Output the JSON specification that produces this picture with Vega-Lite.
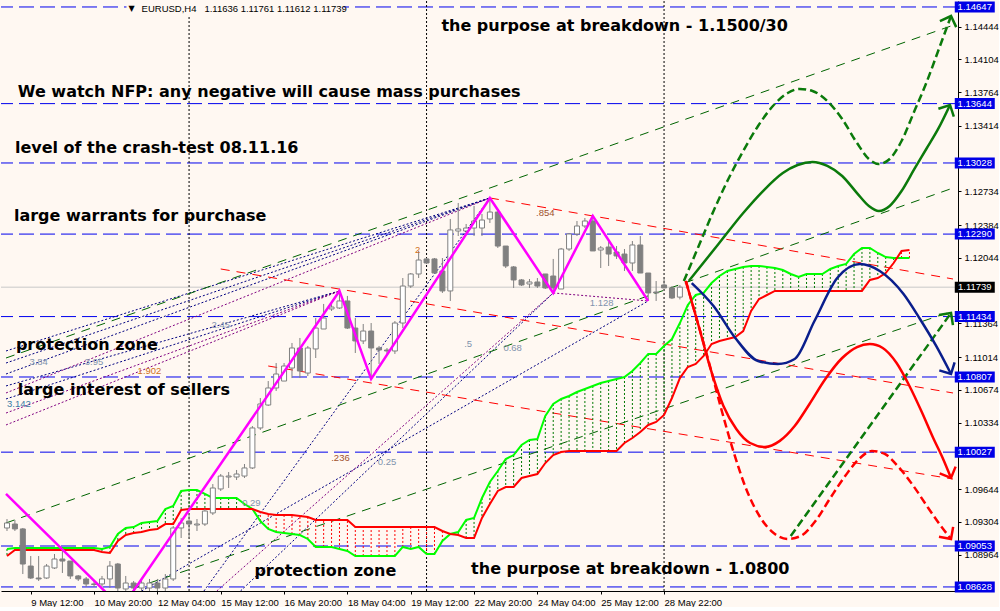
{
"$schema":"https://vega.github.io/schema/vega-lite/v6.json",
"width":957,"height":590,"padding":0,
"background":"#FFF8F2",
"config":{"view":{"stroke":null},"text":{"font":"Liberation Sans"},"axis":{"labelOverlap":false,"labelFlush":false}},
"resolve":{"scale":{"color":"independent"}},
"datasets":{
"levels":[{"p":1.14647},{"p":1.13644},{"p":1.13028},{"p":1.12290},{"p":1.11434},{"p":1.10807},{"p":1.10027},{"p":1.09053},{"p":1.08628}],
"tags":[{"p":1.14647,"t":"1.14647","k":"level"},{"p":1.13644,"t":"1.13644","k":"level"},{"p":1.13028,"t":"1.13028","k":"level"},{"p":1.12290,"t":"1.12290","k":"level"},{"p":1.11434,"t":"1.11434","k":"level"},{"p":1.10807,"t":"1.10807","k":"level"},{"p":1.10027,"t":"1.10027","k":"level"},{"p":1.09053,"t":"1.09053","k":"level"},{"p":1.08628,"t":"1.08628","k":"level"},{"p":1.11739,"t":"1.11739","k":"bid"}],
"seps":[{"i":23},{"i":53},{"i":83}],
"trend":[
{"id":"g1","g":"green","i":-0.125,"p":1.11004},{"id":"g1","g":"green","i":119.5,"p":1.14457},
{"id":"g2","g":"green","i":-0.125,"p":1.09292},{"id":"g2","g":"green","i":119.5,"p":1.12768},
{"id":"g3","g":"green","i":16.125,"p":1.08617},{"id":"g3","g":"green","i":119.5,"p":1.11492},
{"id":"r1","g":"red","i":61,"p":1.12665},{"id":"r1","g":"red","i":119.5,"p":1.11824},
{"id":"r2","g":"red","i":27,"p":1.11928},{"id":"r2","g":"red","i":119.5,"p":1.10641},
{"id":"r3","g":"red","i":33,"p":1.10921},{"id":"r3","g":"red","i":119.5,"p":1.09748},
{"id":"n1","g":"navy","i":-0.125,"p":1.11077},{"id":"n1","g":"navy","i":61,"p":1.12665},
{"id":"n2","g":"navy","i":-0.125,"p":1.10952},{"id":"n2","g":"navy","i":61,"p":1.12665},
{"id":"n3","g":"navy","i":-0.125,"p":1.10838},{"id":"n3","g":"navy","i":61,"p":1.12665},
{"id":"n4","g":"navy","i":-0.125,"p":1.10714},{"id":"n4","g":"navy","i":42,"p":1.11700},
{"id":"n5","g":"navy","i":-0.125,"p":1.10579},{"id":"n5","g":"navy","i":42,"p":1.11700},
{"id":"n6","g":"navy","i":24.875,"p":1.08586},{"id":"n6","g":"navy","i":61,"p":1.12665},
{"id":"n7","g":"navy","i":29.5,"p":1.08586},{"id":"n7","g":"navy","i":69,"p":1.11679},
{"id":"n8","g":"navy","i":17,"p":1.08586},{"id":"n8","g":"navy","i":81,"p":1.11596},
{"id":"v1","g":"purple","i":-0.125,"p":1.10641},{"id":"v1","g":"purple","i":61,"p":1.12665},
{"id":"v2","g":"purple","i":-0.125,"p":1.10433},{"id":"v2","g":"purple","i":42,"p":1.11700},
{"id":"v3","g":"purple","i":-0.125,"p":1.10309},{"id":"v3","g":"purple","i":42,"p":1.11700},
{"id":"v4","g":"purple","i":26.5,"p":1.08586},{"id":"v4","g":"purple","i":69,"p":1.11679},
{"id":"v5","g":"purple","i":69,"p":1.11679},{"id":"v5","g":"purple","i":81,"p":1.11596}
],
"cloud":[
{"i":0,"a":1.09022,"b":1.08949},{"i":1,"a":1.09032,"b":1.09012},{"i":2,"a":1.09032,"b":1.09012},{"i":3,"a":1.09032,"b":1.09012},{"i":4,"a":1.09032,"b":1.09012},{"i":5,"a":1.09032,"b":1.09012},{"i":6,"a":1.09032,"b":1.09012},{"i":7,"a":1.09032,"b":1.09012},{"i":8,"a":1.09032,"b":1.09012},{"i":9,"a":1.09032,"b":1.09012},{"i":10,"a":1.09032,"b":1.09012},{"i":11,"a":1.09032,"b":1.09012},
{"i":12,"a":1.09022,"b":1.08991},{"i":13,"a":1.09043,"b":1.08980},{"i":14,"a":1.09178,"b":1.09105},{"i":15,"a":1.09240,"b":1.09167},{"i":16,"a":1.09250,"b":1.09188},{"i":17,"a":1.09292,"b":1.09198},{"i":18,"a":1.09302,"b":1.09219},{"i":19,"a":1.09312,"b":1.09230},{"i":20,"a":1.09437,"b":1.09281},{"i":21,"a":1.09468,"b":1.09281},
{"i":22,"a":1.09624,"b":1.09427},{"i":23,"a":1.09634,"b":1.09437},{"i":24,"a":1.09634,"b":1.09437},{"i":25,"a":1.09593,"b":1.09437},{"i":26,"a":1.09551,"b":1.09437},{"i":27,"a":1.09551,"b":1.09437},{"i":28,"a":1.09551,"b":1.09437},{"i":29,"a":1.09551,"b":1.09437},{"i":30,"a":1.09489,"b":1.09437},{"i":31,"a":1.09437,"b":1.09437},
{"i":32,"a":1.09312,"b":1.09406},{"i":33,"a":1.09230,"b":1.09385},{"i":34,"a":1.09198,"b":1.09375},{"i":35,"a":1.09188,"b":1.09375},{"i":36,"a":1.09178,"b":1.09375},{"i":37,"a":1.09167,"b":1.09364},{"i":38,"a":1.09126,"b":1.09354},{"i":39,"a":1.09043,"b":1.09323},{"i":40,"a":1.09043,"b":1.09323},{"i":41,"a":1.09043,"b":1.09323},
{"i":42,"a":1.09022,"b":1.09323},{"i":43,"a":1.09001,"b":1.09323},{"i":44,"a":1.08949,"b":1.09250},{"i":45,"a":1.08949,"b":1.09250},{"i":46,"a":1.08949,"b":1.09250},{"i":47,"a":1.08949,"b":1.09250},{"i":48,"a":1.08949,"b":1.09250},{"i":49,"a":1.08949,"b":1.09250},
{"i":50,"a":1.09043,"b":1.09250},{"i":51,"a":1.09022,"b":1.09250},{"i":52,"a":1.09043,"b":1.09250},{"i":53,"a":1.08970,"b":1.09250},{"i":54,"a":1.08970,"b":1.09250},{"i":55,"a":1.09105,"b":1.09209},{"i":56,"a":1.09178,"b":1.09178},{"i":57,"a":1.09198,"b":1.09167},{"i":58,"a":1.09323,"b":1.09136},{"i":59,"a":1.09344,"b":1.09136},
{"i":60,"a":1.09551,"b":1.09344},{"i":61,"a":1.09717,"b":1.09489},{"i":62,"a":1.09831,"b":1.09624},{"i":63,"a":1.09956,"b":1.09665},{"i":64,"a":1.09997,"b":1.09665},{"i":65,"a":1.10101,"b":1.09759},{"i":66,"a":1.10153,"b":1.09779},{"i":67,"a":1.10163,"b":1.09800},{"i":68,"a":1.10402,"b":1.09914},{"i":69,"a":1.10527,"b":1.09997},
{"i":70,"a":1.10579,"b":1.10029},{"i":71,"a":1.10610,"b":1.10039},{"i":72,"a":1.10651,"b":1.10039},{"i":73,"a":1.10682,"b":1.10039},{"i":74,"a":1.10714,"b":1.10039},{"i":75,"a":1.10745,"b":1.10039},{"i":76,"a":1.10765,"b":1.10039},{"i":77,"a":1.10786,"b":1.10039},{"i":78,"a":1.10807,"b":1.10122},{"i":79,"a":1.10869,"b":1.10174},
{"i":80,"a":1.10952,"b":1.10236},{"i":81,"a":1.11046,"b":1.10309},{"i":82,"a":1.11046,"b":1.10340},{"i":83,"a":1.11129,"b":1.10413},{"i":84,"a":1.11201,"b":1.10589},{"i":85,"a":1.11367,"b":1.10796},{"i":86,"a":1.11554,"b":1.10911},{"i":87,"a":1.11658,"b":1.10942},{"i":88,"a":1.11679,"b":1.11025},{"i":89,"a":1.11782,"b":1.11149},
{"i":90,"a":1.11855,"b":1.11181},{"i":91,"a":1.11907,"b":1.11201},{"i":92,"a":1.11928,"b":1.11222},{"i":93,"a":1.11949,"b":1.11284},{"i":94,"a":1.11959,"b":1.11492},{"i":95,"a":1.11959,"b":1.11616},{"i":96,"a":1.11949,"b":1.11658},{"i":97,"a":1.11938,"b":1.11700},{"i":98,"a":1.11917,"b":1.11700},{"i":99,"a":1.11876,"b":1.11700},
{"i":100,"a":1.11845,"b":1.11700},{"i":101,"a":1.11876,"b":1.11700},{"i":102,"a":1.11876,"b":1.11700},{"i":103,"a":1.11876,"b":1.11700},{"i":104,"a":1.11928,"b":1.11700},{"i":105,"a":1.11959,"b":1.11700},{"i":106,"a":1.11980,"b":1.11700},{"i":107,"a":1.12083,"b":1.11700},{"i":108,"a":1.12146,"b":1.11700},{"i":109,"a":1.12146,"b":1.11814},
{"i":110,"a":1.12094,"b":1.11834},{"i":111,"a":1.12052,"b":1.11886},{"i":112,"a":1.12042,"b":1.11990},{"i":113,"a":1.12042,"b":1.12115},{"i":114,"a":1.12042,"b":1.12125}
],
"candles":[
{"i":0,"o":1.09240,"h":1.09333,"l":1.09209,"c":1.09292},{"i":1,"o":1.09281,"h":1.09323,"l":1.09209,"c":1.09230},{"i":2,"o":1.09230,"h":1.09240,"l":1.08762,"c":1.08866},{"i":3,"o":1.08845,"h":1.08949,"l":1.08711,"c":1.08721},{"i":4,"o":1.08721,"h":1.08949,"l":1.08690,"c":1.08711},
{"i":5,"o":1.08721,"h":1.08866,"l":1.08711,"c":1.08845},{"i":6,"o":1.08825,"h":1.08970,"l":1.08814,"c":1.08918},{"i":7,"o":1.08918,"h":1.09022,"l":1.08773,"c":1.08897},{"i":8,"o":1.08897,"h":1.08897,"l":1.08711,"c":1.08742},{"i":9,"o":1.08742,"h":1.08752,"l":1.08690,"c":1.08711},
{"i":10,"o":1.08711,"h":1.08731,"l":1.08628,"c":1.08659},{"i":11,"o":1.08659,"h":1.08690,"l":1.08628,"c":1.08654},{"i":12,"o":1.08659,"h":1.08742,"l":1.08628,"c":1.08711},{"i":13,"o":1.08711,"h":1.08897,"l":1.08617,"c":1.08845},{"i":14,"o":1.08866,"h":1.08877,"l":1.08560,"c":1.08617},
{"i":15,"o":1.08607,"h":1.08742,"l":1.08560,"c":1.08669},{"i":16,"o":1.08669,"h":1.08690,"l":1.08560,"c":1.08617},{"i":17,"o":1.08617,"h":1.08711,"l":1.08560,"c":1.08669},{"i":18,"o":1.08617,"h":1.08711,"l":1.08560,"c":1.08669},{"i":19,"o":1.08669,"h":1.08711,"l":1.08560,"c":1.08617},
{"i":20,"o":1.08617,"h":1.08762,"l":1.08560,"c":1.08711},{"i":21,"o":1.08711,"h":1.09261,"l":1.08690,"c":1.09240},{"i":22,"o":1.09240,"h":1.09344,"l":1.09136,"c":1.09292},{"i":23,"o":1.09312,"h":1.09385,"l":1.09136,"c":1.09281},{"i":24,"o":1.09271,"h":1.09333,"l":1.09209,"c":1.09281},
{"i":25,"o":1.09281,"h":1.09437,"l":1.09261,"c":1.09416},{"i":26,"o":1.09396,"h":1.09696,"l":1.09375,"c":1.09655},{"i":27,"o":1.09645,"h":1.09800,"l":1.09624,"c":1.09779},{"i":28,"o":1.09769,"h":1.09821,"l":1.09655,"c":1.09779},{"i":29,"o":1.09769,"h":1.09842,"l":1.09738,"c":1.09800},
{"i":30,"o":1.09779,"h":1.09904,"l":1.09759,"c":1.09863},{"i":31,"o":1.09863,"h":1.10298,"l":1.09852,"c":1.10278},{"i":32,"o":1.10278,"h":1.10589,"l":1.10257,"c":1.10527},{"i":33,"o":1.10516,"h":1.10765,"l":1.10506,"c":1.10693},{"i":34,"o":1.10693,"h":1.10952,"l":1.10662,"c":1.10838},
{"i":35,"o":1.10765,"h":1.10952,"l":1.10765,"c":1.10921},{"i":36,"o":1.10900,"h":1.11160,"l":1.10796,"c":1.11108},{"i":37,"o":1.11108,"h":1.11212,"l":1.10796,"c":1.10869},{"i":38,"o":1.10848,"h":1.11129,"l":1.10817,"c":1.11108},{"i":39,"o":1.11098,"h":1.11419,"l":1.11004,"c":1.11315},
{"i":40,"o":1.11305,"h":1.11565,"l":1.11305,"c":1.11419},{"i":41,"o":1.11513,"h":1.11565,"l":1.11492,"c":1.11533},{"i":42,"o":1.11523,"h":1.11700,"l":1.11513,"c":1.11596},{"i":43,"o":1.11596,"h":1.11648,"l":1.11305,"c":1.11315},{"i":44,"o":1.11315,"h":1.11419,"l":1.11056,"c":1.11181},
{"i":45,"o":1.11181,"h":1.11357,"l":1.11149,"c":1.11284},{"i":46,"o":1.11284,"h":1.11367,"l":1.10786,"c":1.11108},{"i":47,"o":1.11108,"h":1.11129,"l":1.10942,"c":1.11087},{"i":48,"o":1.11087,"h":1.11108,"l":1.11046,"c":1.11077},{"i":49,"o":1.11077,"h":1.11388,"l":1.11046,"c":1.11367},
{"i":50,"o":1.11367,"h":1.11834,"l":1.11315,"c":1.11751},{"i":51,"o":1.11751,"h":1.11886,"l":1.11731,"c":1.11876},{"i":52,"o":1.11876,"h":1.12115,"l":1.11834,"c":1.12021},{"i":53,"o":1.12032,"h":1.12042,"l":1.11980,"c":1.11990},{"i":54,"o":1.12032,"h":1.12042,"l":1.11886,"c":1.11886},
{"i":55,"o":1.11907,"h":1.12042,"l":1.11679,"c":1.11700},{"i":56,"o":1.11700,"h":1.12447,"l":1.11596,"c":1.12333},{"i":57,"o":1.12322,"h":1.12613,"l":1.12270,"c":1.12343},{"i":58,"o":1.12322,"h":1.12395,"l":1.12291,"c":1.12353},{"i":59,"o":1.12353,"h":1.12582,"l":1.12270,"c":1.12426},
{"i":60,"o":1.12353,"h":1.12499,"l":1.12270,"c":1.12436},{"i":61,"o":1.12447,"h":1.12665,"l":1.12405,"c":1.12519},{"i":62,"o":1.12519,"h":1.12550,"l":1.12146,"c":1.12166},{"i":63,"o":1.12166,"h":1.12166,"l":1.11938,"c":1.11959},{"i":64,"o":1.11949,"h":1.11959,"l":1.11731,"c":1.11814},
{"i":65,"o":1.11814,"h":1.11824,"l":1.11751,"c":1.11762},{"i":66,"o":1.11772,"h":1.11824,"l":1.11731,"c":1.11793},{"i":67,"o":1.11793,"h":1.11834,"l":1.11731,"c":1.11751},{"i":68,"o":1.11876,"h":1.11876,"l":1.11720,"c":1.11731},{"i":69,"o":1.11855,"h":1.12032,"l":1.11679,"c":1.11731},
{"i":70,"o":1.11720,"h":1.12146,"l":1.11720,"c":1.12135},{"i":71,"o":1.12135,"h":1.12301,"l":1.12115,"c":1.12291},{"i":72,"o":1.12291,"h":1.12426,"l":1.12270,"c":1.12374},{"i":73,"o":1.12374,"h":1.12457,"l":1.12353,"c":1.12426},{"i":74,"o":1.12426,"h":1.12478,"l":1.12115,"c":1.12115},
{"i":75,"o":1.12125,"h":1.12166,"l":1.11938,"c":1.12146},{"i":76,"o":1.12156,"h":1.12218,"l":1.11959,"c":1.12083},{"i":77,"o":1.12104,"h":1.12166,"l":1.12032,"c":1.12063},{"i":78,"o":1.12083,"h":1.12135,"l":1.11907,"c":1.11990},{"i":79,"o":1.11990,"h":1.12218,"l":1.11907,"c":1.12177},
{"i":80,"o":1.12177,"h":1.12270,"l":1.11886,"c":1.11886},{"i":81,"o":1.11886,"h":1.11886,"l":1.11596,"c":1.11679},{"i":82,"o":1.11689,"h":1.11803,"l":1.11596,"c":1.11679},{"i":83,"o":1.11762,"h":1.11824,"l":1.11731,"c":1.11731},{"i":84,"o":1.11731,"h":1.11751,"l":1.11616,"c":1.11627},
{"i":85,"o":1.11636,"h":1.11761,"l":1.11612,"c":1.11739}
],
"zz":[{"i":-0.125,"p":1.09593},{"i":14.5,"p":1.08410},{"i":42,"p":1.11700},{"i":46,"p":1.10786},{"i":61,"p":1.12665},{"i":69,"p":1.11679},{"i":74,"p":1.12478},{"i":81,"p":1.11596}],
"paths":[
{"id":"up1","i":86.125,"p":1.11803},{"id":"up1","i":89.875,"p":1.12187},{"id":"up1","i":93,"p":1.12509},{"id":"up1","i":95.5,"p":1.12737},{"id":"up1","i":98,"p":1.12924},{"id":"up1","i":99.875,"p":1.13007},{"id":"up1","i":101.75,"p":1.13038},{"id":"up1","i":103.625,"p":1.12997},{"id":"up1","i":105.5,"p":1.12893},{"id":"up1","i":107.375,"p":1.12716},{"id":"up1","i":108.875,"p":1.12582},{"id":"up1","i":110.125,"p":1.12530},{"id":"up1","i":111.5,"p":1.12582},{"id":"up1","i":113,"p":1.12737},{"id":"up1","i":114.625,"p":1.12966},{"id":"up1","i":116.125,"p":1.13173},{"id":"up1","i":117.625,"p":1.13381},{"id":"up1","i":119.125,"p":1.13630},
{"id":"up2","i":85.5,"p":1.11803},{"id":"up2","i":87.375,"p":1.12166},{"id":"up2","i":89.25,"p":1.12530},{"id":"up2","i":91.125,"p":1.12862},{"id":"up2","i":93,"p":1.13152},{"id":"up2","i":94.875,"p":1.13412},{"id":"up2","i":96.75,"p":1.13619},{"id":"up2","i":98.625,"p":1.13754},{"id":"up2","i":100.125,"p":1.13796},{"id":"up2","i":101.75,"p":1.13775},{"id":"up2","i":103.625,"p":1.13671},{"id":"up2","i":105.5,"p":1.13484},{"id":"up2","i":107.375,"p":1.13235},{"id":"up2","i":108.875,"p":1.13069},{"id":"up2","i":110.125,"p":1.13017},{"id":"up2","i":111.5,"p":1.13069},{"id":"up2","i":113,"p":1.13256},{"id":"up2","i":114.625,"p":1.13567},{"id":"up2","i":116.125,"p":1.13858},{"id":"up2","i":117.625,"p":1.14190},{"id":"up2","i":119.25,"p":1.14553},
{"id":"up3","i":99,"p":1.09157},{"id":"up3","i":119.25,"p":1.11471},
{"id":"mid","i":86.5,"p":1.11782},{"id":"mid","i":89.25,"p":1.11544},{"id":"mid","i":92,"p":1.11212},{"id":"mid","i":94.875,"p":1.10973},{"id":"mid","i":97.375,"p":1.10942},{"id":"mid","i":99.5,"p":1.10994},{"id":"mid","i":102,"p":1.11388},{"id":"mid","i":104.875,"p":1.11834},{"id":"mid","i":107.75,"p":1.11980},{"id":"mid","i":110.25,"p":1.11907},{"id":"mid","i":113.25,"p":1.11668},{"id":"mid","i":115.25,"p":1.11419},{"id":"mid","i":117.375,"p":1.11129},{"id":"mid","i":119.25,"p":1.10838},
{"id":"down1","i":85.75,"p":1.11803},{"id":"down1","i":87.375,"p":1.11336},{"id":"down1","i":88.875,"p":1.10891},{"id":"down1","i":90.5,"p":1.10506},{"id":"down1","i":92.125,"p":1.10267},{"id":"down1","i":93.875,"p":1.10122},{"id":"down1","i":95.75,"p":1.10080},{"id":"down1","i":97.625,"p":1.10144},{"id":"down1","i":99.5,"p":1.10298},{"id":"down1","i":101.375,"p":1.10527},{"id":"down1","i":103.375,"p":1.10786},{"id":"down1","i":105.5,"p":1.11004},{"id":"down1","i":107.375,"p":1.11118},{"id":"down1","i":109,"p":1.11149},{"id":"down1","i":110.625,"p":1.11108},{"id":"down1","i":112.375,"p":1.10952},{"id":"down1","i":114,"p":1.10714},{"id":"down1","i":115.5,"p":1.10454},{"id":"down1","i":117,"p":1.10174},{"id":"down1","i":118.25,"p":1.09956},{"id":"down1","i":119.25,"p":1.09759},
{"id":"down2","i":85.75,"p":1.11803},{"id":"down2","i":87.125,"p":1.11409},{"id":"down2","i":88.625,"p":1.10973},{"id":"down2","i":90.125,"p":1.10506},{"id":"down2","i":91.75,"p":1.10039},{"id":"down2","i":93.375,"p":1.09645},{"id":"down2","i":95.125,"p":1.09354},{"id":"down2","i":97,"p":1.09178},{"id":"down2","i":98.625,"p":1.09126},{"id":"down2","i":100.25,"p":1.09157},{"id":"down2","i":102.125,"p":1.09312},{"id":"down2","i":104,"p":1.09551},{"id":"down2","i":105.875,"p":1.09779},{"id":"down2","i":107.625,"p":1.09956},{"id":"down2","i":109.25,"p":1.10039},{"id":"down2","i":110.875,"p":1.10008},{"id":"down2","i":112.625,"p":1.09873},{"id":"down2","i":114.5,"p":1.09676},{"id":"down2","i":116.375,"p":1.09447},{"id":"down2","i":117.875,"p":1.09271},{"id":"down2","i":119.25,"p":1.09126}
],
"tips":[
{"i":119.25,"p":1.14553,"dir":20,"g":"green"},{"i":119.125,"p":1.13630,"dir":27,"g":"green"},{"i":119.25,"p":1.11471,"dir":36,"g":"green"},
{"i":119.25,"p":1.10838,"dir":152,"g":"navy"},{"i":119.25,"p":1.09759,"dir":157,"g":"red"},{"i":119.25,"p":1.09126,"dir":145,"g":"red"}
],
"notes":[
{"i":54.875,"p":1.14450,"t":"the purpose at breakdown - 1.1500/30"},
{"i":1.375,"p":1.13765,"t":"We watch NFP: any negative will cause mass purchases"},
{"i":1,"p":1.13183,"t":"level of the crash-test 08.11.16"},
{"i":0.875,"p":1.12478,"t":"large warrants for purchase"},
{"i":1.125,"p":1.11140,"t":"protection zone"},
{"i":1.375,"p":1.10672,"t":"large interest of sellers"},
{"i":31.25,"p":1.08794,"t":"protection zone"},
{"i":58.625,"p":1.08814,"t":"the purpose at breakdown - 1.0800"}
],
"fibs":[
{"i":4,"p":1.10963,"t":"3.84","g":"fan"},{"i":11,"p":1.10963,"t":"3.95","g":"fan"},{"i":27,"p":1.11347,"t":"2.45","g":"fan"},{"i":18,"p":1.10869,"t":"1.902","g":"time"},{"i":1.5,"p":1.10527,"t":"3.142","g":"ext"},{"i":51.875,"p":1.12125,"t":"2","g":"time"},{"i":68,"p":1.12509,"t":".854","g":"retr"},{"i":75.125,"p":1.11575,"t":"1.128","g":"fan"},{"i":58.25,"p":1.11149,"t":".5","g":"fan"},{"i":63.875,"p":1.11108,"t":"0.68","g":"fan"},{"i":42.125,"p":1.09966,"t":".236","g":"retr"},{"i":48,"p":1.09925,"t":"0.25","g":"fan"},{"i":30.875,"p":1.09499,"t":"0.29","g":"fan"}
]
},
"layer":[
{"data":{"name":"levels"},"mark":{"type":"rule","color":"#0000EE","strokeDash":[15,6],"strokeWidth":1},
 "encoding":{"y":{"field":"p","type":"quantitative","scale":{"domain":[1.08586,1.14709],"nice":false,"zero":false},
  "axis":{"orient":"right","values":[1.14444,1.14104,1.13764,1.13414,1.12734,1.12384,1.12044,1.11364,1.11014,1.10674,1.10334,1.09644,1.09304,1.08964],"format":".5f","title":null,"grid":false,"domain":true,"domainColor":"#000000","ticks":true,"tickColor":"#000000","tickSize":3,"labelPadding":3,"labelFont":"Liberation Sans","labelFontSize":9.5,"labelColor":"#000000","labelOverlap":false,"labelFlush":false}}}},
{"data":{"values":[{"p":1.11739}]},"mark":{"type":"rule","color":"#C8C8C8","strokeWidth":1},"encoding":{"y":{"field":"p","type":"quantitative"}}},
{"data":{"name":"seps"},"mark":{"type":"rule","color":"#000000","strokeDash":[2,2],"strokeWidth":1},
 "encoding":{"x":{"field":"i","type":"quantitative","scale":{"domain":[-0.125,119.5],"nice":false,"zero":false},
  "axis":{"orient":"bottom","values":[3,11,19,27,35,43,51,59,67,75,83],"labelExpr":"datum.value==3?'9 May 12:00':datum.value==11?'10 May 20:00':datum.value==19?'12 May 04:00':datum.value==27?'15 May 12:00':datum.value==35?'16 May 20:00':datum.value==43?'18 May 04:00':datum.value==51?'19 May 12:00':datum.value==59?'22 May 20:00':datum.value==67?'24 May 04:00':datum.value==75?'25 May 12:00':'28 May 22:00'","title":null,"grid":false,"domain":true,"domainColor":"#000000","ticks":true,"tickColor":"#000000","tickSize":3,"labelAlign":"left","labelBaseline":"top","labelPadding":3,"labelFont":"Liberation Sans","labelFontSize":9.5,"labelColor":"#000000","labelOverlap":false,"labelFlush":false}}}},
{"data":{"name":"trend"},"transform":[{"filter":"datum.g=='navy'"}],"mark":{"type":"line","color":"#000080","strokeDash":[2,2],"strokeWidth":1,"clip":true},
 "encoding":{"x":{"field":"i","type":"quantitative"},"y":{"field":"p","type":"quantitative"},"detail":{"field":"id"}}},
{"data":{"name":"trend"},"transform":[{"filter":"datum.g=='purple'"}],"mark":{"type":"line","color":"#800080","strokeDash":[2,2],"strokeWidth":1,"clip":true},
 "encoding":{"x":{"field":"i","type":"quantitative"},"y":{"field":"p","type":"quantitative"},"detail":{"field":"id"}}},
{"data":{"name":"trend"},"transform":[{"filter":"datum.g=='green'"}],"mark":{"type":"line","color":"#006400","strokeDash":[9,7],"strokeWidth":1,"clip":true},
 "encoding":{"x":{"field":"i","type":"quantitative"},"y":{"field":"p","type":"quantitative"},"detail":{"field":"id"}}},
{"data":{"name":"trend"},"transform":[{"filter":"datum.g=='red'"}],"mark":{"type":"line","color":"#FF0000","strokeDash":[9,7],"strokeWidth":1,"clip":true},
 "encoding":{"x":{"field":"i","type":"quantitative"},"y":{"field":"p","type":"quantitative"},"detail":{"field":"id"}}},
{"data":{"name":"cloud"},"mark":{"type":"rule","strokeDash":[2,2],"strokeWidth":1,"clip":true},
 "encoding":{"x":{"field":"i","type":"quantitative"},"y":{"field":"a","type":"quantitative"},"y2":{"field":"b"},
  "color":{"condition":{"test":"datum.a >= datum.b","value":"#007800"},"value":"#FF0000"}}},
{"data":{"name":"cloud"},"mark":{"type":"line","color":"#00FF00","strokeWidth":2,"clip":true},
 "encoding":{"x":{"field":"i","type":"quantitative"},"y":{"field":"a","type":"quantitative"}}},
{"data":{"name":"cloud"},"mark":{"type":"line","color":"#FF0000","strokeWidth":2,"clip":true},
 "encoding":{"x":{"field":"i","type":"quantitative"},"y":{"field":"b","type":"quantitative"}}},
{"data":{"name":"candles"},"mark":{"type":"rule","color":"#808080","strokeWidth":1,"clip":true},
 "encoding":{"x":{"field":"i","type":"quantitative"},"y":{"field":"l","type":"quantitative"},"y2":{"field":"h"}}},
{"data":{"name":"candles"},"mark":{"type":"bar","size":5,"stroke":"#808080","strokeWidth":1,"clip":true},
 "encoding":{"x":{"field":"i","type":"quantitative"},"y":{"field":"o","type":"quantitative"},"y2":{"field":"c"},
  "fill":{"condition":{"test":"datum.c >= datum.o","value":"#FFFFFF"},"value":"#808080"}}},
{"data":{"name":"zz"},"mark":{"type":"line","color":"#FF00FF","strokeWidth":2.5,"clip":true},
 "encoding":{"x":{"field":"i","type":"quantitative"},"y":{"field":"p","type":"quantitative"}}},
{"data":{"name":"paths"},"transform":[{"filter":"datum.id=='up1'"}],"mark":{"type":"line","color":"#0B7A0B","strokeWidth":2.5,"interpolate":"monotone","clip":true},
 "encoding":{"x":{"field":"i","type":"quantitative"},"y":{"field":"p","type":"quantitative"}}},
{"data":{"name":"paths"},"transform":[{"filter":{"field":"id","oneOf":["up2","up3"]}}],"mark":{"type":"line","color":"#0B7A0B","strokeWidth":2.5,"strokeDash":[8,4],"interpolate":"monotone","clip":true},
 "encoding":{"x":{"field":"i","type":"quantitative"},"y":{"field":"p","type":"quantitative"},"detail":{"field":"id"}}},
{"data":{"name":"paths"},"transform":[{"filter":"datum.id=='mid'"}],"mark":{"type":"line","color":"#0A1E8C","strokeWidth":2.5,"interpolate":"monotone","clip":true},
 "encoding":{"x":{"field":"i","type":"quantitative"},"y":{"field":"p","type":"quantitative"}}},
{"data":{"name":"paths"},"transform":[{"filter":"datum.id=='down1'"}],"mark":{"type":"line","color":"#FF0000","strokeWidth":2.5,"interpolate":"monotone","clip":true},
 "encoding":{"x":{"field":"i","type":"quantitative"},"y":{"field":"p","type":"quantitative"}}},
{"data":{"name":"paths"},"transform":[{"filter":"datum.id=='down2'"}],"mark":{"type":"line","color":"#FF0000","strokeWidth":2.5,"strokeDash":[8,4],"interpolate":"monotone","clip":true},
 "encoding":{"x":{"field":"i","type":"quantitative"},"y":{"field":"p","type":"quantitative"}}},
{"data":{"name":"tips"},"mark":{"type":"point","shape":"M -1 1 L 0 0 L 1 1","filled":false,"strokeWidth":2.5,"size":300,"opacity":1,"clip":false},
 "encoding":{"x":{"field":"i","type":"quantitative"},"y":{"field":"p","type":"quantitative"},
  "angle":{"field":"dir","type":"quantitative","scale":{"domain":[0,360],"range":[0,360]}},
  "color":{"field":"g","type":"nominal","scale":{"domain":["green","navy","red"],"range":["#0B7A0B","#0A1E8C","#FF0000"]},"legend":null}}},
{"data":{"name":"notes"},"mark":{"type":"text","align":"left","baseline":"middle","font":"Comic Sans MS, DejaVu Sans","fontSize":16,"fontWeight":"bold","color":"#000000","clip":true},
 "encoding":{"x":{"field":"i","type":"quantitative"},"y":{"field":"p","type":"quantitative"},"text":{"field":"t"}}},
{"data":{"name":"fibs"},"mark":{"type":"text","align":"center","baseline":"middle","font":"Liberation Sans","fontSize":9.5,"clip":true},
 "encoding":{"x":{"field":"i","type":"quantitative"},"y":{"field":"p","type":"quantitative"},"text":{"field":"t"},
  "color":{"field":"g","type":"nominal","scale":{"domain":["fan","time","retr","ext"],"range":["#7F93AD","#D07020","#A0522D","#3A7CA5"]},"legend":null}}},
{"data":{"values":[{"t":"box"}]},"mark":{"type":"tick","orient":"horizontal","size":217,"thickness":14,"color":"#FFF8F2","opacity":1},
 "encoding":{"x":{"datum":28.8,"type":"quantitative"},"y":{"datum":1.14636,"type":"quantitative"}}},
{"data":{"values":[{"t":"\u25bc"}]},"mark":{"type":"text","align":"center","baseline":"middle","fontSize":8,"font":"DejaVu Sans","color":"#000000"},
 "encoding":{"x":{"datum":15.75,"type":"quantitative"},"y":{"datum":1.14626,"type":"quantitative"},"text":{"field":"t"}}},
{"data":{"values":[{"t":"EURUSD,H4\u00a0\u00a0 1.11636 1.11761 1.11612 1.11739"}]},"mark":{"type":"text","align":"left","baseline":"middle","fontSize":9.5,"font":"Liberation Sans","color":"#000000"},
 "encoding":{"x":{"datum":17,"type":"quantitative"},"y":{"datum":1.14626,"type":"quantitative"},"text":{"field":"t"}}},
{"data":{"name":"tags"},"mark":{"type":"tick","orient":"horizontal","size":40,"thickness":11,"opacity":1,"clip":false},
 "encoding":{"x":{"datum":122.25,"type":"quantitative"},"y":{"field":"p","type":"quantitative"},
  "color":{"field":"k","type":"nominal","scale":{"domain":["level","bid"],"range":["#0000E6","#000000"]},"legend":null}}},
{"data":{"name":"tags"},"mark":{"type":"text","align":"center","baseline":"middle","fontSize":9.5,"font":"Liberation Sans","color":"#FFFFFF","clip":false},
 "encoding":{"x":{"datum":122.25,"type":"quantitative"},"y":{"field":"p","type":"quantitative"},"text":{"field":"t"}}}
]
}
